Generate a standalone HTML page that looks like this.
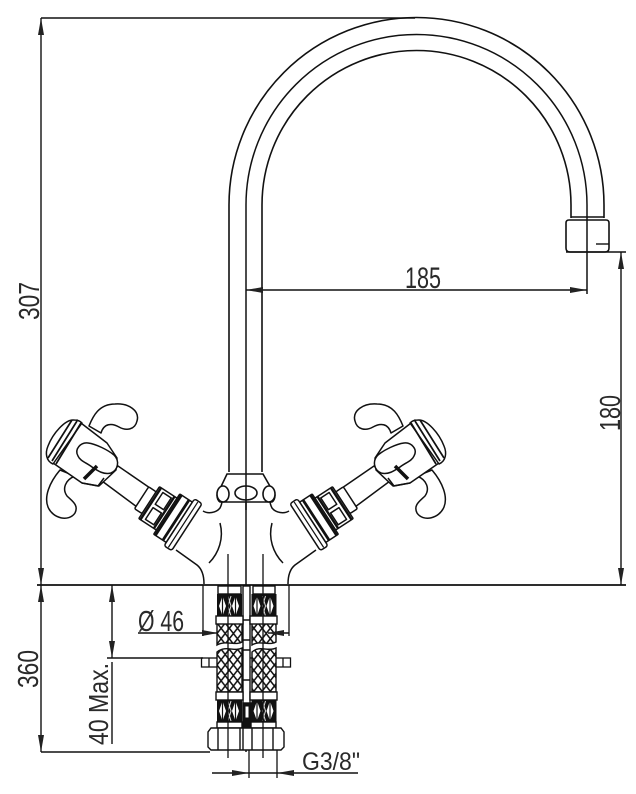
<!DOCTYPE html>
<html>
<head>
<meta charset="utf-8">
<style>
html,body{margin:0;padding:0;background:#fff;width:636px;height:794px;overflow:hidden}
svg{display:block}
text{font-family:"Liberation Sans",sans-serif;fill:#2a2a2a}
</style>
</head>
<body>
<svg width="636" height="794" viewBox="0 0 636 794" xmlns="http://www.w3.org/2000/svg">
<defs>
<pattern id="mesh" x="217" y="623" width="8.200" height="10.500" patternUnits="userSpaceOnUse">
<rect width="8.200" height="10.500" fill="#fff"/>
<path d="M0 0L8.200 10.500M8.200 0L0 10.500" stroke="#111" stroke-width="1.500"/>
</pattern>
<g id="block">
<rect x="0" y="0" width="25" height="24" fill="#111" stroke="none"/>
<path d="M5.500 2L9 12L5.500 22L2 12Z M18.500 2L22 12L18.500 22L15 12Z" fill="#fff" stroke="none"/>
<path d="M11 2L14 12L11 22M14 2L11 12L14 22" fill="none" stroke="#ddd" stroke-width="1"/>
<path d="M5.500 2V22M18.500 2V22" fill="none" stroke="#111" stroke-width="1.200"/>
</g>
<g id="handle" fill="#fff" stroke="#111" stroke-width="1.500" stroke-linejoin="round">
<path d="M89 426C93 416 99 404 115 404C129 403 140 411 137 421C135 430 126 431 119 427C112 423 104 423 101 433Z"/>
<path d="M60 470C49 483 44 497 48 507C53 519 69 522 75 513C79 505 72 501 67 496C62 489 65 480 75 476Z"/>
<path d="M118 466L150 488L137 507L102 481Z"/>
<path d="M77 420L107 443L117 458L116 470L99 486L82 483L53 463Z"/>
<path d="M53 464C46 461 45 453 48 446C53 433 65 420 73 420C78 420 80 421 82 423Z"/>
<path d="M72 420L48 458M77 421L52 461M81 423L56 464" fill="none" stroke-width="1.700"/>
<path d="M78 456C74 449 81 442 88 443C96 444 108 450 114 455C120 461 118 470 111 473C104 475 98 471 92 467C87 463 80 461 78 456Z"/>
<path d="M84 479L97 466" stroke-width="3.500" fill="none"/>
<path d="M82 483L98 486L104 478" fill="none"/>
<g transform="translate(183.500 525) rotate(33)">
<rect x="-50" y="-13" width="9" height="26" rx="1.500"/>
<rect x="-41" y="-19" width="21" height="38" rx="1"/>
<path d="M-39 -18.500V18.500" fill="none" stroke-width="2.400"/>
<path d="M-35 -16H-25V-2H-35ZM-35 2H-25V16H-35Z"/>
<path d="M-23 -18.500V18.500" fill="none" stroke-width="2.400"/>
<rect x="-20" y="-24" width="15" height="48" rx="1"/>
<path d="M-18 -24V24" fill="none" stroke-width="2.800"/>
<path d="M-9 -24V24" fill="none" stroke-width="2.800"/>
<rect x="-5" y="-28" width="9" height="56" rx="2.500"/>
<path d="M-.5 -27V27" fill="none" stroke-width="1.200"/>
</g>
<path d="M203 511C208 514 216 513 220 508C221 506 222 504 222 501" fill="none"/>
<path d="M220 523C224 538 219 553 209 563" fill="none"/>
<path d="M176 550L197 565C202 569 204 575 204 584" fill="none"/>
</g>
</defs>

<!-- spout -->
<g fill="none" stroke="#111">
<path d="M229 472V205A187.500 187.500 0 0 1 604 205V218" stroke-width="1.600"/>
<path d="M262 472V205A154.500 154.500 0 0 1 571 205V218" stroke-width="1.600"/>
<path d="M246 205A170.500 170.500 0 0 1 587 205V294" stroke-width="1.500"/>
<path d="M246 205V752" stroke-width="1.500"/>
<path d="M571 217H604" stroke-width="1.500"/>
<path d="M569 220H606Q609 220 609 223V248Q609 252 605 252H570Q566 252 566 248V223Q566 220 569 220Z" stroke-width="1.600"/>
<path d="M596 244H609" stroke-width="1.400"/>
</g>

<!-- hub collar -->
<g fill="#fff" stroke="#111" stroke-width="1.600">
<path d="M227 474H263L275 495Q275 500 272 502H220Q217 500 217 495Z"/>
<ellipse cx="223" cy="494" rx="6" ry="8"/>
<ellipse cx="246" cy="493" rx="11" ry="7"/>
<ellipse cx="269" cy="494" rx="6" ry="8"/>
</g>
<path d="M246 474V510" stroke="#111" stroke-width="1.500"/>

<use href="#handle"/>
<use href="#handle" transform="translate(492 0) scale(-1 1)"/>

<!-- plate -->
<g fill="#fff" stroke="#111" stroke-width="1.300">
<rect x="201.500" y="658" width="89" height="9"/>
<path d="M209 658V667M283 658V667"/>
</g>

<!-- hoses -->
<g stroke="#111" stroke-width="1.400">
<rect x="243" y="586" width="7" height="142" fill="#fff"/>
<path d="M243 620H250M243 640H250M243 650H250M243 680H250" fill="none"/>
<rect x="243" y="703" width="8" height="25" fill="#111"/>
<rect x="245" y="706" width="4" height="12" fill="#fff" stroke-width="1"/>

<path d="M217 623H242V642C236 646 226 640 217 645Z" fill="url(#mesh)"/>
<path d="M252 623H276V642C270 646 260 640 252 645Z" fill="url(#mesh)"/>
<path d="M217 652C226 645 234 652 242 648V692H217Z" fill="url(#mesh)"/>
<path d="M252 652C260 645 268 652 276 648V692H252Z" fill="url(#mesh)"/>

<use href="#block" x="217" y="594"/>
<use href="#block" x="251.500" y="594"/>
<use href="#block" x="217" y="699"/>
<use href="#block" x="251.500" y="699"/>

<g fill="#fff">
<rect x="218" y="586" width="23" height="8"/>
<rect x="253" y="586" width="22" height="8"/>
<rect x="216" y="616" width="27" height="8"/>
<rect x="250" y="616" width="27" height="8"/>
<rect x="216" y="692" width="27" height="8"/>
<rect x="250" y="692" width="27" height="8"/>
<rect x="217" y="722" width="25" height="6"/>
<rect x="251" y="722" width="25" height="6"/>
<path d="M211 728H281L284 732V747L281 750H211L208 747V732Z"/>
<path d="M218 728V750M240 728V750M243 728V750M252 728V750M273 728V750" fill="none"/>
</g>
</g>

<!-- extension lines through fitting -->
<g fill="none" stroke="#111" stroke-width="1.300">
<path d="M228 554V758M263 554V758"/>
<path d="M203 585V636M289 585V636"/>
<path d="M249 750V778M277 750V778"/>
</g>

<!-- dimensions -->
<g fill="none" stroke="#111" stroke-width="1.400">
<path d="M41 18H415"/>
<path d="M41 18V752"/>
<path d="M37 585H626" stroke-width="1.700"/>
<path d="M41 752H210"/>
<path d="M112 585V658"/>
<path d="M112 662V744"/>
<path d="M107 658H203"/>
<path d="M246 290H587"/>
<path d="M566 252H626"/>
<path d="M621 252V585"/>
<path d="M138 633H218"/>
<path d="M268 633H289"/>
<path d="M212 773H358"/>
</g>

<!-- arrowheads -->
<g fill="#222">
<path d="M41 18L38 35H44Z"/>
<path d="M41 585L38 568H44Z"/>
<path d="M41 585L38 602H44Z"/>
<path d="M41 752L38 735H44Z"/>
<path d="M112 585L109 602H115Z"/>
<path d="M112 658L109 641H115Z"/>
<path d="M246 290L263 287V293Z"/>
<path d="M587 290L570 287V293Z"/>
<path d="M621 252L618 269H624Z"/>
<path d="M621 585L618 568H624Z"/>
<path d="M218 633L202 630V636Z"/>
<path d="M268 633L284 630V636Z"/>
<path d="M249 773L232 770V776Z"/>
<path d="M277 773L294 770V776Z"/>
</g>

<!-- labels -->
<text x="405" y="288" font-size="30" textLength="36" lengthAdjust="spacingAndGlyphs">185</text>
<text transform="translate(620 431) rotate(-90)" font-size="29" textLength="36" lengthAdjust="spacingAndGlyphs">180</text>
<text transform="translate(39 320) rotate(-90)" font-size="29" textLength="38" lengthAdjust="spacingAndGlyphs">307</text>
<text transform="translate(38 688) rotate(-90)" font-size="29" textLength="38" lengthAdjust="spacingAndGlyphs">360</text>
<text transform="translate(108 745) rotate(-90)" font-size="28" textLength="82" lengthAdjust="spacingAndGlyphs">40 Max.</text>
<text x="138" y="631" font-size="29" textLength="46" lengthAdjust="spacingAndGlyphs">Ø 46</text>
<text x="302" y="770" font-size="25" textLength="58" lengthAdjust="spacingAndGlyphs">G3/8"</text>
</svg>
</body>
</html>
